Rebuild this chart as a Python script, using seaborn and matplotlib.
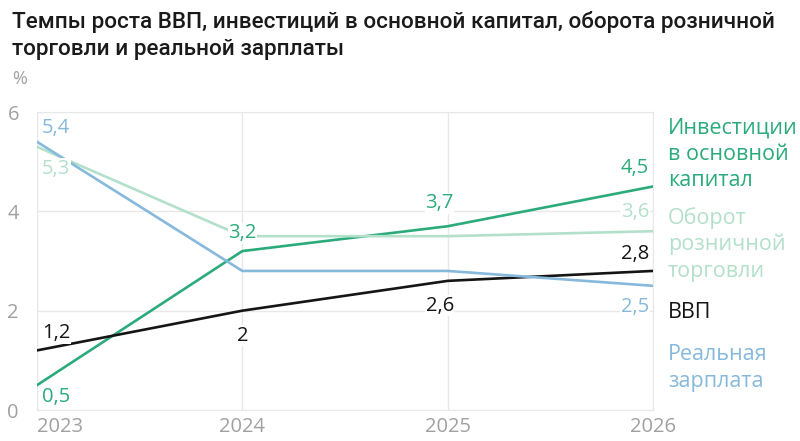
import matplotlib.pyplot as plt
import seaborn as sns
import pandas as pd

# data
years = [2023, 2024, 2025, 2026]
gdp = [1.2, 2.0, 2.6, 2.8]
investment = [0.5, 3.2, 3.7, 4.5]
retail = [5.3, 3.5, 3.5, 3.6]
wages = [5.4, 2.8, 2.8, 2.5]

series_names = ['Инвестиции\nв основной\nкапитал', 'Оборот\nрозничной\nторговли',
                'ВВП', 'Реальная\nзарплата']
series_values = [investment, retail, gdp, wages]
colors = ['#2bab7c', '#b3e0cb', '#151515', '#86b9dc']

title = 'Темпы роста ВВП, инвестиций в основной капитал, оборота розничной\nторговли и реальной зарплаты'

sns.set_style('white')
plt.rcParams['font.family'] = ['Open Sans', 'DejaVu Sans']

df = pd.DataFrame({
    'year': years * 4,
    'value': sum(series_values, []),
    'series': [n for n in series_names for _ in years],
})

W, H = 800, 441
fig = plt.figure(figsize=(8, 4.41), dpi=100)
ax = fig.add_axes([37 / W, 1 - 410 / H, (653 - 37) / W, (410 - 112) / H])

sns.lineplot(data=df, x='year', y='value', hue='series', palette=colors,
             hue_order=series_names, linewidth=1.9, legend=False, ax=ax,
             zorder=3)

ax.set_xlim(2023, 2026)
ax.set_ylim(0, 6)
ax.set_xticks(years)
ax.set_xticklabels([str(y) for y in years])
ax.set_yticks([0, 2, 4, 6])
ax.grid(True, color='#e8e8e8', linewidth=1)
ax.set_axisbelow(True)
for s in ax.spines.values():
    s.set_color('#e8e8e8')
ax.tick_params(length=0, labelsize=14.5, labelcolor='#a0a0a0')
ax.tick_params(axis='x', pad=5)
ax.tick_params(axis='y', pad=13)
ax.get_xticklabels()[0].set_ha('left')
ax.set_xlabel('')
ax.set_ylabel('')


def fmt(v):
    return f'{v:g}'.replace('.', ',')


# value labels: (series index, point index, dx px, dy px, ha, va)
label_spec = [
    (3, 0, 5, 4, 'left', 'bottom'),
    (1, 0, 5, -12, 'left', 'top'),
    (0, 0, 5, -2, 'left', 'top'),
    (2, 0, 5, 7, 'left', 'bottom'),
    (2, 1, 0, -15, 'center', 'top'),
    (0, 2, -8, 13, 'center', 'bottom'),
    (2, 2, -8, -15, 'center', 'top'),
    (0, 3, -4, 9, 'right', 'bottom'),
    (1, 3, -4, 9, 'right', 'bottom'),
    (2, 3, -4, 7, 'right', 'bottom'),
    (3, 3, -4, -11, 'right', 'top'),
]
for si, pi, dx, dy, ha, va in label_spec:
    v = series_values[si][pi]
    ax.annotate(fmt(v), (years[pi], v), xytext=(dx, dy), textcoords='offset pixels',
                ha=ha, va=va, fontsize=14.5, color=colors[si], zorder=5,
                bbox=dict(fc='white', ec='none', pad=0.5))

# investment 2024 label sits on the retail line
ax.annotate(fmt(investment[1]), (years[1], retail[1]), xytext=(0, 3),
            textcoords='offset pixels', ha='center', va='center', fontsize=14.5,
            color=colors[0], zorder=5, bbox=dict(fc='white', ec='none', pad=0.5))

# right-hand labels instead of a legend
first_line_y = [128, 218, 313, 355]
for name, c, y0 in zip(series_names, colors, first_line_y):
    for i, line in enumerate(name.split('\n')):
        fig.text(668 / W, 1 - (y0 + 26.5 * i) / H, line, fontsize=15.5,
                 color=c, ha='left', va='center')

for i, line in enumerate(title.split('\n')):
    fig.text(12 / W, 1 - (22 + 28 * i) / H, line, fontsize=16.2,
             fontweight='medium', color='#1a1a1a', ha='left', va='center',
             family=['Roboto', 'DejaVu Sans'])
fig.text(12 / W, 1 - 79 / H, '%', fontsize=13, color='#a0a0a0',
         ha='left', va='center')

fig.savefig('out.png', dpi=100)
